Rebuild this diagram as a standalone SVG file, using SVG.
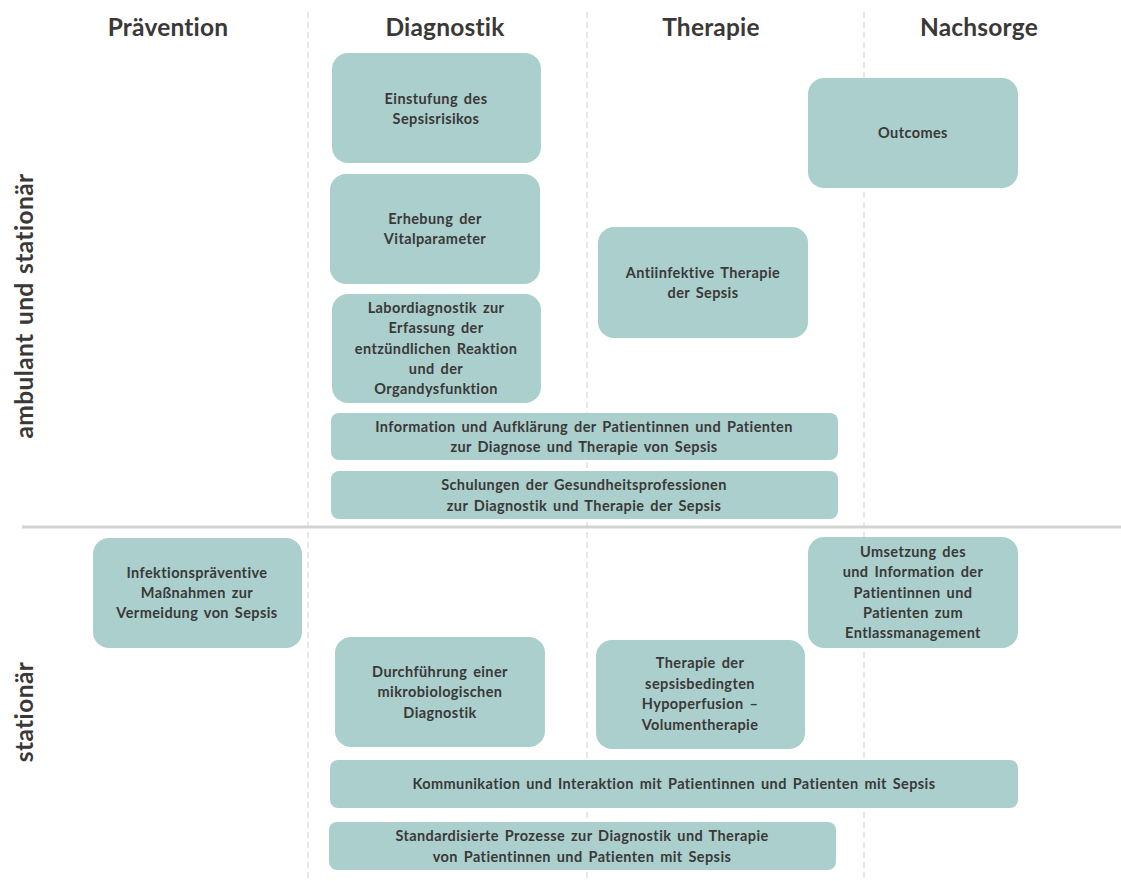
<svg xmlns="http://www.w3.org/2000/svg" width="1121" height="881" viewBox="0 0 1121 881">
<style>
.bg{fill:#ffffff}
.box{fill:#aacfcc}
.t{font-family:Lato,"Liberation Sans",sans-serif;font-weight:bold;font-size:14.5px;letter-spacing:0.4px;word-spacing:2px;fill:#3b3838;text-anchor:middle}
.h{font-family:Lato,"Liberation Sans",sans-serif;font-weight:bold;font-size:24.5px;letter-spacing:0.2px;fill:#3b3838;text-anchor:middle}
.v{font-family:Lato,"Liberation Sans",sans-serif;font-weight:bold;font-size:24.5px;letter-spacing:0.4px;word-spacing:2px;fill:#3b3838;text-anchor:middle}
.dash{stroke:#cfcfcf;stroke-width:1;stroke-dasharray:6,4;fill:none}
.sep{stroke:#d3d3d3;stroke-width:3;fill:none}
</style>
<rect class="bg" x="0" y="0" width="1121" height="881"/>
<g id="grid">
<line class="dash" x1="308" y1="12" x2="308" y2="881"/>
<line class="dash" x1="587" y1="12" x2="587" y2="881"/>
<line class="dash" x1="864" y1="12" x2="864" y2="881"/>
<line class="sep" x1="22" y1="527" x2="1121" y2="527"/>
</g>
<g id="headers">
<text class="h" x="168" y="36">Prävention</text>
<text class="h" x="445" y="36">Diagnostik</text>
<text class="h" x="711" y="36">Therapie</text>
<text class="h" x="979" y="36">Nachsorge</text>
<text class="v" transform="translate(33,306) rotate(-90)">ambulant und stationär</text>
<text class="v" transform="translate(33,712) rotate(-90)">stationär</text>
</g>
<g id="n1"><rect class="box" x="332" y="53" width="209" height="110" rx="16"/>
<text class="t" x="436" y="104">Einstufung des</text><text class="t" x="436" y="124">Sepsisrisikos</text></g>
<g id="n2"><rect class="box" x="808" y="78" width="210" height="110" rx="16"/>
<text class="t" x="913" y="138">Outcomes</text></g>
<g id="n3"><rect class="box" x="330" y="174" width="210" height="110" rx="16"/>
<text class="t" x="435" y="224">Erhebung der</text><text class="t" x="435" y="244">Vitalparameter</text></g>
<g id="n4"><rect class="box" x="598" y="227" width="210" height="111" rx="16"/>
<text class="t" x="703" y="278">Antiinfektive Therapie</text><text class="t" x="703" y="298">der Sepsis</text></g>
<g id="n5"><rect class="box" x="332" y="294" width="209" height="109" rx="16"/>
<text class="t" x="436" y="313">Labordiagnostik zur</text><text class="t" x="436" y="333">Erfassung der</text><text class="t" x="436" y="354">entzündlichen Reaktion</text><text class="t" x="436" y="374">und der</text><text class="t" x="436" y="394">Organdysfunktion</text></g>
<g id="n6"><rect class="box" x="331" y="413" width="507" height="47" rx="8"/>
<text class="t" x="584" y="432">Information und Aufklärung der Patientinnen und Patienten</text><text class="t" x="584" y="452">zur Diagnose und Therapie von Sepsis</text></g>
<g id="n7"><rect class="box" x="331" y="471" width="507" height="48" rx="8"/>
<text class="t" x="584" y="490">Schulungen der Gesundheitsprofessionen</text><text class="t" x="584" y="511">zur Diagnostik und Therapie der Sepsis</text></g>
<g id="n8"><rect class="box" x="93" y="538" width="209" height="110" rx="16"/>
<text class="t" x="197" y="578">Infektionspräventive</text><text class="t" x="197" y="598">Maßnahmen zur</text><text class="t" x="197" y="618">Vermeidung von Sepsis</text></g>
<g id="n9"><rect class="box" x="808" y="537" width="210" height="111" rx="16"/>
<text class="t" x="913" y="557">Umsetzung des</text><text class="t" x="913" y="577">und Information der</text><text class="t" x="913" y="598">Patientinnen und</text><text class="t" x="913" y="618">Patienten zum</text><text class="t" x="913" y="638">Entlassmanagement</text></g>
<g id="n10"><rect class="box" x="335" y="637" width="210" height="110" rx="16"/>
<text class="t" x="440" y="677">Durchführung einer</text><text class="t" x="440" y="697">mikrobiologischen</text><text class="t" x="440" y="718">Diagnostik</text></g>
<g id="n11"><rect class="box" x="596" y="640" width="209" height="109" rx="16"/>
<text class="t" x="700" y="668">Therapie der</text><text class="t" x="700" y="689">sepsisbedingten</text><text class="t" x="700" y="709">Hypoperfusion –</text><text class="t" x="700" y="730">Volumentherapie</text></g>
<g id="n12"><rect class="box" x="330" y="760" width="688" height="48" rx="8"/>
<text class="t" x="674" y="789">Kommunikation und Interaktion mit Patientinnen und Patienten mit Sepsis</text></g>
<g id="n13"><rect class="box" x="329" y="822" width="507" height="48" rx="8"/>
<text class="t" x="582" y="841">Standardisierte Prozesse zur Diagnostik und Therapie</text><text class="t" x="582" y="862">von Patientinnen und Patienten mit Sepsis</text></g>
<g id="connectors"></g>
</svg>
